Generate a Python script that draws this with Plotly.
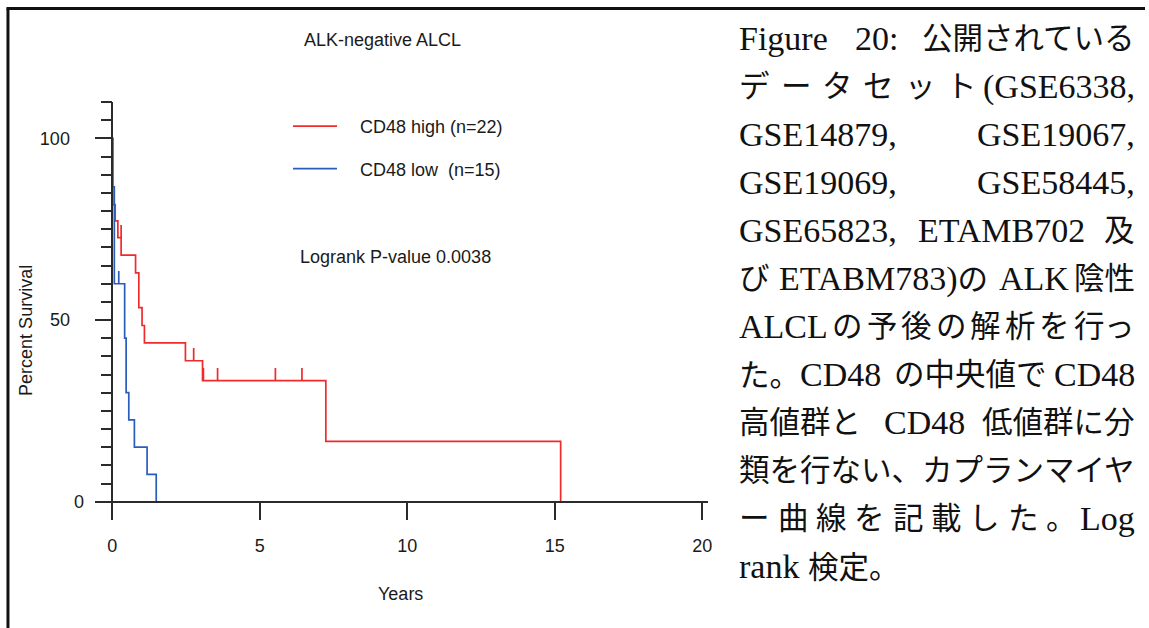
import plotly.graph_objects as go

W, H = 1149, 628

# ---- Kaplan-Meier estimates (years, percent survival) ----
high_times = [0, 0.02, 0.10, 0.19, 0.30, 0.79, 0.90, 1.01, 1.09, 2.48, 3.06, 7.24, 15.2]
high_surv = [100, 81.8, 77.3, 72.7, 67.9, 63.0, 53.4, 48.5, 43.7, 38.8, 33.3, 16.6, 0]
high_censor = [0.30, 2.76, 3.09, 3.57, 5.53, 6.43]

low_times = [0, 0.01, 0.07, 0.42, 0.47, 0.56, 0.75, 1.18, 1.49]
low_surv = [100, 86.7, 60.0, 45.0, 30.0, 22.5, 15.0, 7.5, 0]
low_censor = [0.22]

x_ticks = [0, 5, 10, 15, 20]
y_ticks = [0, 50, 100]
# "0" sits further right than the other y labels; trailing spaces push 50/100 left
y_tick_text = ["0", "50\u2002\u00a0", "100\u2002\u00a0"]

high_name = "\u2002\u2002CD48 high (n=22)"
low_name = "\u2002\u2002CD48 low\u00a0\u00a0(n=15)"
pvalue_text = "Logrank P-value 0.0038"
title_text = "ALK-negative ALCL"

RED = "#f02a2a"
BLUE = "#2a5cbc"
AXIS = "#2b2b2b"
TEXT = "#1a1a1a"
SANS = "Liberation Sans, Arial, sans-serif"

# caption lines, split into the pieces that get spread across each line
caption_lines = [
    ["Figure", "20:", "公開されている"],
    ["デ", "ー", "タ", "セ", "ッ", "ト", "(GSE6338,"],
    ["GSE14879,", "GSE19067,"],
    ["GSE19069,", "GSE58445,"],
    ["GSE65823,", "ETAMB702", "及"],
    ["び", "ETABM783)の", "ALK", "陰性"],
    ["ALCL"] + list("の予後の解析を行っ"),
    ["た。CD48", "の中央値で", "CD48"],
    ["高値群と", "CD48", "低値群に分"],
    ["類を行ない、カプランマイヤ"],
    ["ー", "曲", "線", "を", "記", "載", "し", "た", "。", "Log"],
    ["rank 検定。"],
]


def px(x):
    return x / W


def py(y):
    return 1 - y / H


def surv_before(times, surv, t):
    s = surv[0]
    for ti, si in zip(times, surv):
        if ti < t:
            s = si
    return s


def censor_segments(times, surv, censor, height=3.5):
    xs, ys = [], []
    for c in censor:
        s = surv_before(times, surv, c)
        xs += [c, c, None]
        ys += [s, s + height, None]
    return xs, ys


fig = go.Figure()

for name, times, surv, cens, color, grp in [
    (high_name, high_times, high_surv, high_censor, RED, "high"),
    (low_name, low_times, low_surv, low_censor, BLUE, "low"),
]:
    fig.add_trace(go.Scatter(
        x=times, y=surv, mode="lines", line=dict(color=color, width=1.7, shape="hv"),
        name=name, legendgroup=grp, showlegend=True,
    ))
    cx, cy = censor_segments(times, surv, cens)
    fig.add_trace(go.Scatter(
        x=cx, y=cy, mode="lines", line=dict(color=color, width=1.7),
        legendgroup=grp, showlegend=False, hoverinfo="skip",
    ))

# plot geometry in pixels
x0_px, x1_px = 94.9, 710.6
y_top_px, y_bot_px = 102.1, 518.4
origin_x_px, origin_y_px = 112.7, 501.7

fig.update_xaxes(
    range=[-0.6, 20.2], domain=[px(x0_px), px(x1_px)],
    anchor="free", position=py(origin_y_px),
    showline=True, linecolor=AXIS, linewidth=1.6,
    ticks="outside", ticklen=17, tickwidth=1.6, tickcolor=AXIS,
    tickvals=x_ticks, ticklabelstandoff=11,
    tickfont=dict(family=SANS, size=18, color=TEXT),
    showgrid=False, zeroline=False,
)
fig.update_yaxes(
    range=[-4.6, 110], domain=[py(y_bot_px), py(y_top_px)],
    anchor="free", position=px(origin_x_px),
    showline=True, linecolor=AXIS, linewidth=1.6,
    ticks="outside", ticklen=17, tickwidth=1.6, tickcolor=AXIS,
    tickvals=y_ticks, ticktext=y_tick_text, ticklabelstandoff=7,
    minor=dict(dtick=5, tick0=0, ticks="outside", ticklen=11, tickwidth=1.6, tickcolor=AXIS),
    tickfont=dict(family=SANS, size=18, color=TEXT),
    showgrid=False, zeroline=False,
)

annotations = [
    dict(text=title_text, x=px(384), y=py(40), xanchor="center", yanchor="middle"),
    dict(text=pvalue_text, x=px(299), y=py(257), xanchor="left", yanchor="middle"),
    dict(text="Percent Survival", x=px(26), y=py(330), xanchor="center", yanchor="middle",
         textangle=-90),
    dict(text="Years", x=px(402), y=py(594), xanchor="center", yanchor="middle"),
]
for a in annotations:
    a.update(xref="paper", yref="paper", showarrow=False,
             font=dict(family=SANS, size=18, color=TEXT))

# ---- justified caption text on the right ----
CAP_FONT = "Liberation Serif, Noto Sans CJK JP, serif"
CJK_SIZE = 30.5
LATIN_SIZE = 34
cap_left, cap_right = 740, 1141
line_y0, line_step = 38.5, 48.03

latin_w = {
    "A": .722, "B": .667, "C": .667, "D": .722, "E": .611, "F": .556, "G": .722,
    "K": .722, "L": .611, "M": .889, "S": .556, "T": .611,
    "a": .444, "e": .444, "g": .5, "i": .278, "k": .5, "n": .5, "o": .5, "r": .333, "u": .5,
    ",": .25, ":": .278, "(": .333, ")": .333, " ": .25,
}


def is_cjk(ch):
    return ord(ch) >= 0x3000


def text_width(s):
    w = 0.0
    for ch in s:
        if is_cjk(ch):
            w += CJK_SIZE
        elif ch.isdigit():
            w += 0.5 * LATIN_SIZE
        else:
            w += latin_w.get(ch, 0.5) * LATIN_SIZE
    return w


def markup(s):
    # Latin runs are set a little larger than the kana/kanji runs
    out, run, run_latin = [], "", None
    for ch in s + "\0":
        latin = (not is_cjk(ch)) if ch != "\0" else None
        if ch == "\0" or (run and latin != run_latin):
            if run:
                out.append(f'<span style="font-size:{LATIN_SIZE}px">{run}</span>' if run_latin else run)
            run = ""
        if ch != "\0":
            run += ch
            run_latin = latin
    return "".join(out)


for i, pieces in enumerate(caption_lines):
    yc = py(line_y0 + i * line_step)
    widths = [text_width(p) for p in pieces]
    last_line = i == len(caption_lines) - 1
    gap = 0 if len(pieces) == 1 else (cap_right - cap_left - sum(widths)) / (len(pieces) - 1)
    xpos = cap_left
    for j, (p, w) in enumerate(zip(pieces, widths)):
        if j == len(pieces) - 1 and j > 0 and not last_line:
            ax, anchor = cap_right, "right"
        else:
            ax, anchor = xpos, "left"
        annotations.append(dict(
            text=markup(p), x=px(ax), y=yc, xref="paper", yref="paper",
            xanchor=anchor, yanchor="middle", showarrow=False,
            font=dict(family=CAP_FONT, size=CJK_SIZE, color="#111111"),
        ))
        xpos += w + gap

# outer frame edges (top and left)
shapes = [
    dict(type="line", xref="paper", yref="paper", x0=px(8), x1=px(8), y0=py(8.5), y1=0,
         line=dict(color="#111111", width=3)),
    dict(type="line", xref="paper", yref="paper", x0=px(6.5), x1=1, y0=py(8.5), y1=py(8.5),
         line=dict(color="#111111", width=3)),
]

fig.update_layout(
    width=W, height=H,
    margin=dict(l=0, r=0, t=0, b=0),
    paper_bgcolor="white", plot_bgcolor="white",
    annotations=annotations, shapes=shapes,
    showlegend=True,
    legend=dict(
        x=px(289), y=py(108), xanchor="left", yanchor="top",
        bgcolor="rgba(0,0,0,0)", font=dict(family=SANS, size=18, color=TEXT),
        tracegroupgap=16, itemwidth=44,
    ),
)

fig.write_html("out.html")
